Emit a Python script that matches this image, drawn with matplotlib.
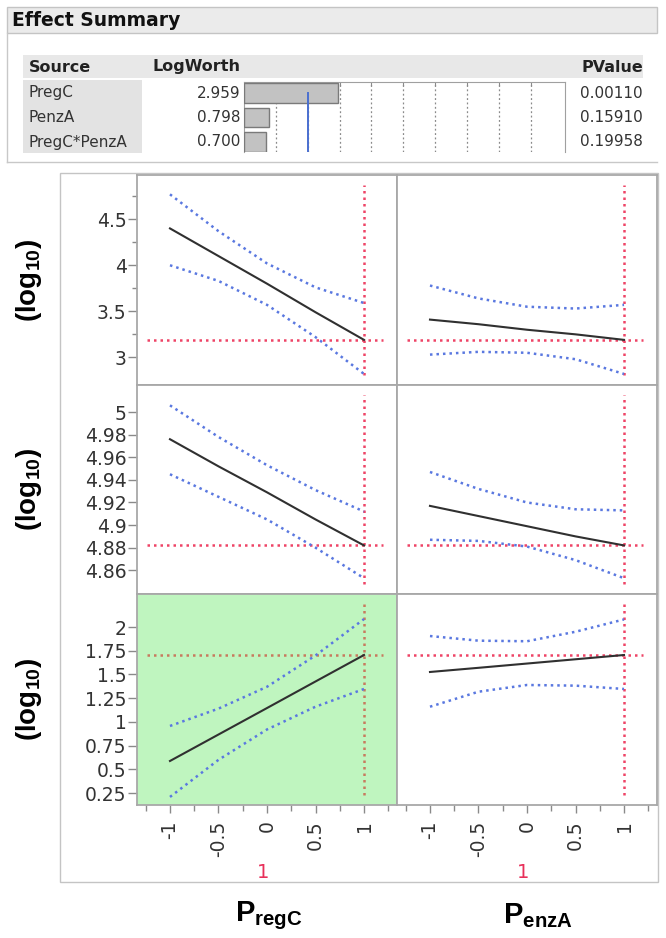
import matplotlib
matplotlib.use("Agg")
import matplotlib.pyplot as plt
from matplotlib.patches import Rectangle

plt.rcParams['font.family'] = ['DejaVu Sans']
plt.rcParams['axes.unicode_minus'] = False
plt.rcParams['mathtext.fontset'] = 'custom'
plt.rcParams['mathtext.bf'] = 'Liberation Sans:bold'
plt.rcParams['mathtext.rm'] = 'Liberation Sans:bold'
plt.rcParams['mathtext.default'] = 'bf'

# ---------------- data ----------------
sources = ["PregC", "PenzA", "PregC*PenzA"]
logworth = [2.959, 0.798, 0.700]
pvalues = ["0.00110", "0.15910", "0.19958"]
logworth_ref = 2.0  # -log10(0.01)

x_levels = [-1, -0.5, 0, 0.5, 1]
current_x = 1

# response 1
pregc_r1_pred = [4.40, 4.10, 3.80, 3.49, 3.19]
pregc_r1_upper = [4.77, 4.37, 4.02, 3.76, 3.59]
pregc_r1_lower = [4.00, 3.83, 3.57, 3.22, 2.82]
penza_r1_pred = [3.41, 3.36, 3.30, 3.25, 3.19]
penza_r1_upper = [3.78, 3.64, 3.55, 3.53, 3.57]
penza_r1_lower = [3.03, 3.06, 3.05, 2.98, 2.82]
# response 2
pregc_r2_pred = [4.976, 4.952, 4.929, 4.905, 4.882]
pregc_r2_upper = [5.006, 4.978, 4.953, 4.931, 4.912]
pregc_r2_lower = [4.945, 4.925, 4.905, 4.880, 4.853]
penza_r2_pred = [4.917, 4.908, 4.899, 4.890, 4.882]
penza_r2_upper = [4.947, 4.932, 4.920, 4.914, 4.913]
penza_r2_lower = [4.887, 4.886, 4.881, 4.869, 4.853]
# response 3
pregc_r3_pred = [0.588, 0.867, 1.146, 1.426, 1.705]
pregc_r3_upper = [0.957, 1.14, 1.37, 1.70, 2.084]
pregc_r3_lower = [0.209, 0.60, 0.92, 1.16, 1.347]
penza_r3_pred = [1.526, 1.57, 1.615, 1.66, 1.705]
penza_r3_upper = [1.905, 1.856, 1.85, 1.95, 2.08]
penza_r3_lower = [1.16, 1.318, 1.389, 1.382, 1.347]

current_y = [3.19, 4.882, 1.705]

r1_ticks = [3, 3.5, 4, 4.5]
r1_ticklabels = ["3", "3.5", "4", "4.5"]
r1_minor = [3.25, 3.75, 4.25, 4.75]
r2_ticks = [4.86, 4.88, 4.90, 4.92, 4.94, 4.96, 4.98, 5.0]
r2_ticklabels = ["4.86", "4.88", "4.9", "4.92", "4.94", "4.96", "4.98", "5"]
r3_ticks = [0.25, 0.5, 0.75, 1, 1.25, 1.5, 1.75, 2]
r3_ticklabels = ["0.25", "0.5", "0.75", "1", "1.25", "1.5", "1.75", "2"]
x_ticks = [-1, -0.5, 0, 0.5, 1]
x_ticklabels = ["-1", "-0.5", "0", "0.5", "1"]
x_minor = [-1.25, -0.75, -0.25, 0.25, 0.75, 1.25]

factor_labels = [r"P$_{regC}$", r"P$_{enzA}$"]
response_label = r"(log$_{10}$)"

# ---------------- figure ----------------
W, H = 666, 938
fig = plt.figure(figsize=(W / 100, H / 100), dpi=100)


def px_axes(x0, y0, x1, y1, **kw):
    return fig.add_axes([x0 / W, 1 - y1 / H, (x1 - x0) / W, (y1 - y0) / H], **kw)


# overlay in pixel coordinates for table decoration
ov = px_axes(0, 0, W, H, zorder=0)
ov.set_xlim(0, W)
ov.set_ylim(H, 0)
ov.axis('off')

# title band
ov.add_patch(Rectangle((7, 7), 650, 26, facecolor='#ebebeb', edgecolor='#c4c4c4', lw=1))
ov.text(12, 21, "Effect Summary", fontsize=13.5, fontweight='bold', va='center', ha='left', color='#111111')
ov.plot([7, 7], [33, 162], color='#c8c8c8', lw=1)
ov.plot([7, 657], [162, 162], color='#c8c8c8', lw=1)
# header band
ov.add_patch(Rectangle((23, 55), 620, 23, facecolor='#e8e8e8', edgecolor='none'))
ov.text(29, 67, "Source", fontsize=11.5, fontweight='bold', va='center', ha='left', color='#222222')
ov.text(240, 67, "LogWorth", fontsize=11.5, fontweight='bold', va='center', ha='right', color='#222222')
ov.text(643, 67, "PValue", fontsize=11.5, fontweight='bold', va='center', ha='right', color='#222222')
# source column background
ov.add_patch(Rectangle((23, 80), 119, 73, facecolor='#e3e3e3', edgecolor='none'))
row_y = [93, 118, 142]
for s, lw_, pv, yy in zip(sources, logworth, pvalues, row_y):
    ov.text(29, yy, s, fontsize=11, va='center', ha='left', color='#333333')
    ov.text(240, yy, f"{lw_:.3f}", fontsize=11, va='center', ha='right', color='#333333')
    ov.text(643, yy, pv, fontsize=11, va='center', ha='right', color='#333333')

# LogWorth bar chart
bax = px_axes(244, 82, 565, 152, zorder=2)
bax.barh(range(len(logworth)), logworth, height=0.78, color='#c2c2c2', edgecolor='#7a7a7a', lw=1, zorder=3)
bax.set_xlim(0, 10.08)
bax.set_ylim(2.41, -0.45)
bax.set_xticks(range(1, 10))
bax.set_yticks([])
bax.grid(axis='x', linestyle=(0, (1.5, 2)), color='#8a8a8a', lw=0.9, zorder=1)
bax.tick_params(axis='x', which='both', top=True, bottom=False, labelbottom=False,
                direction='in', length=3, color='#8a8a8a')
bax.axvline(logworth_ref, ymin=0.02, ymax=0.84, color='#4a6fd0', lw=1.4, zorder=4)
bax.set_facecolor('none')
for side in ['left', 'top', 'right']:
    bax.spines[side].set_color('#a0a0a0')
bax.spines['bottom'].set_visible(False)

# frame around profiler
ov.add_patch(Rectangle((60, 173), 598, 709, facecolor='none', edgecolor='#c4c4c4', lw=1))

# ---------------- profiler panels ----------------
cols = [(137, 397), (397, 657)]
rows = [(175, 385), (385, 594), (594, 805)]
ylims = [(2.70, 4.98), (4.839, 5.024), (0.124, 2.348)]
data = [
    [(pregc_r1_pred, pregc_r1_upper, pregc_r1_lower), (penza_r1_pred, penza_r1_upper, penza_r1_lower)],
    [(pregc_r2_pred, pregc_r2_upper, pregc_r2_lower), (penza_r2_pred, penza_r2_upper, penza_r2_lower)],
    [(pregc_r3_pred, pregc_r3_upper, pregc_r3_lower), (penza_r3_pred, penza_r3_upper, penza_r3_lower)],
]
yticks = [(r1_ticks, r1_ticklabels, r1_minor), (r2_ticks, r2_ticklabels, []), (r3_ticks, r3_ticklabels, [])]

blue = '#5a78e0'
red = '#ee4466'
dots = (0, (1, 1.6))

for ri, (y0, y1) in enumerate(rows):
    for ci, (x0, x1) in enumerate(cols):
        ax = px_axes(x0, y0, x1, y1, zorder=3)
        pred, up, lo = data[ri][ci]
        highlight = (ri == 2 and ci == 0)
        ax.set_facecolor('#bff5bf' if highlight else 'white')
        ch_color = '#c77a5e' if highlight else red
        ax.axhline(current_y[ri], xmin=0.04, xmax=0.945, color=ch_color, lw=1.8, ls=dots, zorder=2)
        ax.axvline(current_x, ymin=0.048, ymax=0.952, color=ch_color, lw=1.8, ls=dots, zorder=2)
        ax.plot(x_levels, up, color=blue, lw=1.8, ls=dots, zorder=3)
        ax.plot(x_levels, lo, color=blue, lw=1.8, ls=dots, zorder=3)
        ax.plot(x_levels, pred, color='#303030', lw=1.5, zorder=4)
        ax.set_xlim(-1.34, 1.34)
        ax.set_ylim(*ylims[ri])
        for sp in ax.spines.values():
            sp.set_color('#a8a8a8')
            sp.set_linewidth(1.3)
        if ci == 0:
            tk, tl, mn = yticks[ri]
            ax.set_yticks(tk)
            ax.set_yticklabels(tl)
            ax.set_yticks(mn, minor=True)
            ax.tick_params(axis='y', which='major', length=6.5, pad=1, color='#8a8a8a',
                           labelsize=13.5, labelcolor='#333333', width=1)
            ax.tick_params(axis='y', which='minor', length=3.5, color='#8a8a8a', width=1)
            ax.text(-0.415, 0.5, response_label, transform=ax.transAxes, rotation=90,
                    fontsize=20, fontweight='bold', family=['Liberation Sans', 'DejaVu Sans'],
                    ha='center', va='center', color='black')
        else:
            ax.set_yticks([])
        if ri == 2:
            ax.set_xticks(x_ticks)
            ax.set_xticklabels(x_ticklabels, rotation=90)
            ax.set_xticks(x_minor, minor=True)
            ax.tick_params(axis='x', which='major', length=6, pad=5, color='#8a8a8a',
                           labelsize=13.5, labelcolor='#333333', width=1)
            ax.tick_params(axis='x', which='minor', length=4, color='#8a8a8a', width=1)
            ax.text(0.485, -0.32, "1", transform=ax.transAxes, fontsize=14,
                    color='#e8305a', ha='center', va='center')
        else:
            ax.set_xticks([])

# factor labels
for lbl, xc in zip(factor_labels, [269, 538]):
    ov.text(xc, 916, lbl, fontsize=21, fontweight='bold', family=['Liberation Sans', 'DejaVu Sans'],
            ha='center', va='center', color='black')

fig.savefig("out.png", dpi=100)
